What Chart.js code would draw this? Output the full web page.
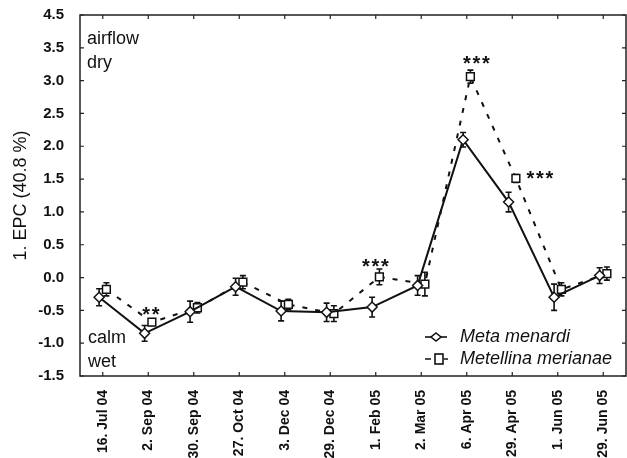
<!DOCTYPE html>
<html><head><meta charset="utf-8">
<script src="https://cdn.jsdelivr.net/npm/chart.js@4"></script>
<style>html,body{margin:0;padding:0;background:#fff}#wrap{width:627px;height:458px}</style>
</head><body><div id="wrap"><canvas id="c" width="627" height="458"></canvas></div>
<script>
const categories = ['16. Jul 04','2. Sep 04','30. Sep 04','27. Oct 04','3. Dec 04','29. Dec 04','1. Feb 05','2. Mar 05','6. Apr 05','29. Apr 05','1. Jun 05','29. Jun 05'];
const metaMenardi = [-0.30,-0.85,-0.52,-0.14,-0.51,-0.53,-0.45,-0.12,2.10,1.15,-0.30,0.03];
const metaMenardiErr = [0.13,0.12,0.16,0.13,0.15,0.14,0.15,0.15,0.11,0.15,0.20,0.12];
const metellinaMerianae = [-0.18,-0.68,-0.46,-0.07,-0.41,-0.55,0.01,-0.10,3.06,1.51,-0.18,0.06];
const metellinaMerianaeErr = [0.10,0.05,0.08,0.10,0.08,0.12,0.12,0.18,0.10,0.06,0.10,0.10];
const yTickValues = [-1.5,-1.0,-0.5,0.0,0.5,1.0,1.5,2.0,2.5,3.0,3.5,4.0];
const yTickLabels = ['-1.5','-1.0','-0.5','0.0','0.5','1.0','1.5','2.0','2.5','3.0','3.5','4.5'];
const significance = [
  {index:1, text:'**'},
  {index:6, text:'***'},
  {index:8, text:'***'},
  {index:9, text:'***'}
];
const seriesNames = ['Meta menardi','Metellina merianae'];
const yTitle = '1. EPC (40.8 %)';
const cornerTop = ['airflow','dry'];
const cornerBottom = ['calm','wet'];

// style-only settings
const JITTER = 0.08;
const INK = '#111';
const sigOffsets = {1:{dx:-1,dy:-12},6:{dx:-4,dy:-15},8:{dx:6,dy:-18},9:{dx:24,dy:-4}};

const toPts = (arr, dx) => arr.map((v,i)=>({x:i+dx, y:v}));

const errorBars = {
  id:'errorBars',
  beforeDatasetsDraw(chart){
    const ctx = chart.ctx, ys = chart.scales.y;
    const errs = [metaMenardiErr, metellinaMerianaeErr];
    const vals = [metaMenardi, metellinaMerianae];
    ctx.save();
    ctx.strokeStyle = INK; ctx.lineWidth = 1.6; ctx.setLineDash([]);
    chart.data.datasets.forEach((ds, di)=>{
      const meta = chart.getDatasetMeta(di);
      meta.data.forEach((pt, j)=>{
        const x = pt.x;
        const t = ys.getPixelForValue(vals[di][j] + errs[di][j]);
        const b = ys.getPixelForValue(vals[di][j] - errs[di][j]);
        ctx.beginPath();
        ctx.moveTo(x, t); ctx.lineTo(x, b);
        ctx.moveTo(x-3, t); ctx.lineTo(x+3, t);
        ctx.moveTo(x-3, b); ctx.lineTo(x+3, b);
        ctx.stroke();
      });
    });
    ctx.restore();
  }
};

const frame = {
  id:'frame',
  afterDraw(chart){
    const ctx = chart.ctx, a = chart.chartArea, xs = chart.scales.x, ys = chart.scales.y;
    ctx.save();
    ctx.strokeStyle = '#222'; ctx.lineWidth = 1.5; ctx.setLineDash([]);
    ctx.strokeRect(a.left, a.top, a.right - a.left, a.bottom - a.top);
    ctx.lineWidth = 1.2;
    ctx.beginPath();
    categories.forEach((c,i)=>{
      const x = xs.getPixelForValue(i);
      ctx.moveTo(x, a.top); ctx.lineTo(x, a.top+4);
      ctx.moveTo(x, a.bottom); ctx.lineTo(x, a.bottom-4);
    });
    yTickValues.forEach(v=>{
      const y = ys.getPixelForValue(v);
      ctx.moveTo(a.left, y); ctx.lineTo(a.left+4, y);
      ctx.moveTo(a.right, y); ctx.lineTo(a.right-4, y);
    });
    ctx.stroke();

    // corner texts
    ctx.fillStyle = INK;
    ctx.font = '18px "Liberation Sans", Arial, sans-serif';
    ctx.textBaseline = 'middle'; ctx.textAlign = 'left';
    ctx.fillText(cornerTop[0], a.left+7, 39);
    ctx.fillText(cornerTop[1], a.left+7, 63);
    ctx.fillText(cornerBottom[0], a.left+8, 338);
    ctx.fillText(cornerBottom[1], a.left+8, 362);

    // significance stars
    ctx.font = 'bold 20px "Liberation Sans", Arial, sans-serif';
    ctx.textBaseline = 'alphabetic'; ctx.textAlign = 'center';
    const m2 = chart.getDatasetMeta(1);
    significance.forEach(s=>{
      const p = m2.data[s.index];
      const o = sigOffsets[s.index];
      const n = s.text.length, step = 9.5;
      const cx = p.x + o.dx, cy = p.y + o.dy;
      for(let k=0;k<n;k++){
        const x = cx + (k-(n-1)/2)*step;
        ctx.fillText(s.text[k], x, cy + 11);
      }
    });

    // legend
    const lx = 425, ly1 = 337, ly2 = 359;
    ctx.lineWidth = 1.6; ctx.strokeStyle = INK;
    ctx.beginPath(); ctx.moveTo(lx, ly1); ctx.lineTo(lx+22, ly1); ctx.stroke();
    ctx.fillStyle = '#fff';
    ctx.beginPath(); ctx.moveTo(lx+11, ly1-4); ctx.lineTo(lx+16, ly1); ctx.lineTo(lx+11, ly1+4); ctx.lineTo(lx+6, ly1); ctx.closePath(); ctx.fill(); ctx.stroke();
    ctx.beginPath(); ctx.moveTo(lx, ly2); ctx.lineTo(lx+6, ly2); ctx.moveTo(lx+19, ly2); ctx.lineTo(lx+23, ly2); ctx.stroke();
    ctx.fillRect(lx+10, ly2-5, 8, 10); ctx.strokeRect(lx+10, ly2-5, 8, 10);
    ctx.fillStyle = INK;
    ctx.font = 'italic 18px "Liberation Sans", Arial, sans-serif';
    ctx.textAlign = 'left'; ctx.textBaseline = 'middle';
    ctx.fillText(seriesNames[0], 460, ly1);
    ctx.fillText(seriesNames[1], 460, ly2);
    ctx.restore();
  }
};

new Chart(document.getElementById('c'), {
  type:'line',
  data:{
    datasets:[
      {label:seriesNames[0], data:toPts(metaMenardi, -JITTER), borderColor:INK, borderWidth:2,
       pointStyle:'rectRot', pointRadius:5, pointBackgroundColor:'#fff', pointBorderColor:INK, pointBorderWidth:1.5, tension:0},
      {label:seriesNames[1], data:toPts(metellinaMerianae, JITTER), borderColor:INK, borderWidth:2, borderDash:[5,8],
       pointStyle:'rect', pointRadius:5.5, pointBackgroundColor:'#fff', pointBorderColor:INK, pointBorderWidth:1.5, tension:0}
    ]
  },
  options:{
    responsive:false, animation:false, devicePixelRatio:1, events:[],
    layout:{autoPadding:false, padding:{top:15, right:1, left:0, bottom:0}},
    plugins:{legend:{display:false}, tooltip:{enabled:false}},
    scales:{
      x:{type:'linear', min:-0.5, max:11.5,
        grid:{display:false}, border:{display:false},
        afterBuildTicks(s){ s.ticks = categories.map((c,i)=>({value:i})); },
        afterFit(s){ s.height = 82; s.paddingLeft = 0; s.paddingRight = 0; },
        ticks:{autoSkip:false, maxRotation:90, minRotation:90, padding:6, color:INK,
          font:{family:'"Liberation Sans", Arial, sans-serif', size:14, weight:'bold'},
          callback:(v)=>categories[Math.round(v)]}
      },
      y:{type:'linear', min:-1.5, max:4.0,
        grid:{display:false}, border:{display:false},
        afterBuildTicks(s){ s.ticks = yTickValues.map(v=>({value:v})); },
        afterFit(s){ s.width = 80; s.paddingTop = 0; s.paddingBottom = 0; },
        ticks:{padding:8, color:INK,
          font:{family:'"Liberation Sans", Arial, sans-serif', size:15, weight:'bold'},
          callback:(v)=>{ const k = yTickValues.findIndex(t=>Math.abs(t-v)<1e-6); return k>=0 ? yTickLabels[k] : ''; }},
        title:{display:true, text:yTitle, color:INK, padding:{top:10,bottom:0},
          font:{family:'"Liberation Sans", Arial, sans-serif', size:18}}
      }
    }
  },
  plugins:[errorBars, frame]
});
</script>
</body></html>
